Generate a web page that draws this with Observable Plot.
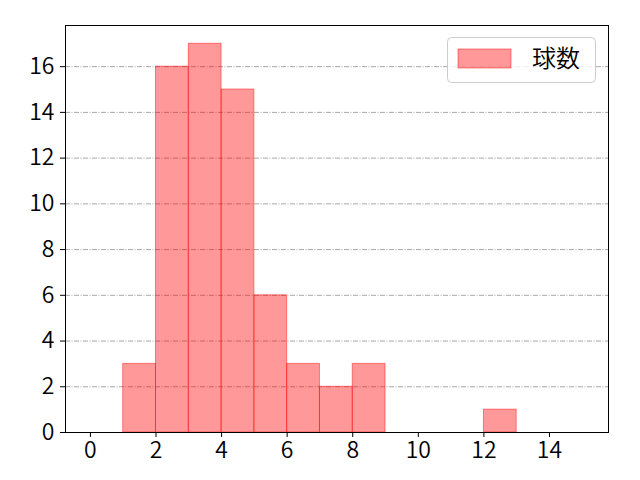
<!DOCTYPE html>
<html><head><meta charset="utf-8">
<script src="https://cdn.jsdelivr.net/npm/d3@7"></script>
<script src="https://cdn.jsdelivr.net/npm/@observablehq/plot@0.6"></script>
<style>
body{margin:0;background:#fff;}
#c{position:relative;width:640px;height:480px;}
</style></head>
<body><div id="c"></div>
<script>
const binStart = [1, 2, 3, 4, 5, 6, 7, 8, 12];
const binEnd   = [2, 3, 4, 5, 6, 7, 8, 9, 13];
const counts   = [3, 16, 17, 15, 6, 3, 2, 3, 1];
const xTicks = [0, 2, 4, 6, 8, 10, 12, 14];
const yTicks = [0, 2, 4, 6, 8, 10, 12, 14, 16];
const seriesName = "球数";

const data = binStart.map((s, i) => ({x1: s, x2: binEnd[i], y: counts[i]}));

const plot = Plot.plot({
  width: 640, height: 480,
  marginLeft: 65, marginRight: 32, marginTop: 25, marginBottom: 48,
  style: {fontFamily: "'Noto Sans CJK JP', 'DejaVu Sans', sans-serif", color: "#000", background: "#fff"},
  x: {domain: [-0.76, 15.8], label: null},
  y: {domain: [0, 17.8], label: null},
  marks: [
    Plot.gridY(yTicks.slice(1), {stroke: "#a8a8a8", strokeOpacity: 1, strokeWidth: 1, strokeDasharray: "5,1.5,1,1.5"}),
    Plot.rectY(data, {x1: "x1", x2: "x2", y: "y", fill: "red", fillOpacity: 0.4, stroke: "red", strokeOpacity: 0.45, strokeWidth: 1}),
    Plot.axisX({ticks: xTicks, tickSize: 5, tickPadding: 4, tickFormat: d => d, label: null}),
    Plot.axisY({ticks: yTicks, tickSize: 5, tickPadding: 6, tickFormat: d => d, label: null}),
    Plot.frame({stroke: "#000", strokeWidth: 1})
  ]
});
document.getElementById("c").appendChild(plot);

const svg = d3.select(plot);
svg.selectAll("text").style("font-size", "23px").style("font-weight", "350").style("fill", "#000");

// legend
const lg = svg.append("g");
lg.append("rect").attr("x", 447.5).attr("y", 37.5).attr("width", 148).attr("height", 45)
  .attr("rx", 4).attr("fill", "#fff").attr("fill-opacity", 0.8).attr("stroke", "#cccccc");
lg.append("rect").attr("x", 458).attr("y", 49).attr("width", 53).attr("height", 19)
  .attr("fill", "red").attr("fill-opacity", 0.4).attr("stroke", "red").attr("stroke-opacity", 0.45);
lg.append("text").attr("x", 532).attr("y", 67).attr("text-anchor", "start")
  .style("font-size", "24px").style("font-weight", "350").style("font-family", "'Noto Sans CJK JP', sans-serif").style("fill", "#000").text(seriesName);
</script></body></html>
